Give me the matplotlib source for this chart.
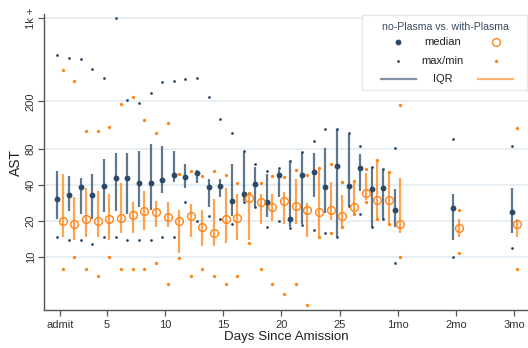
import matplotlib
matplotlib.use('Agg')
import matplotlib.pyplot as plt
import numpy as np

plt.rcParams['font.family'] = ['Liberation Sans', 'DejaVu Sans']

days = list(range(1, 31)) + [35, 40]
xtick_vals = [1, 5, 10, 15, 20, 25, 30, 35, 40]
xtick_labels = ['admit', '5', '10', '15', '20', '25', '1mo', '2mo', '3mo']
ytick_vals = [10, 20, 40, 80, 200, 1000]
ytick_labels = ['10', '20', '40', '80', '200', '1k +']

# no-Plasma
np_max = [489, 464, 452, 371, 314, 1000, 207, 193, 234, 291, 298, 308, 314, 216, 143, 108,
          77, 60.4, 52.8, 55.6, 64, 75.1, 93.2, 117, 118.8, 110, 85.2, 56.8, 55, 81.1, 96.4, 84.7]
np_q3 = [52.4, 47.8, 45.8, 49.4, 66, 74, 74, 77, 87.6, 85.2, 76.6, 60.1, 53.4, 44.6, 44.6, 60.4,
         75, 56.8, 49.4, 53.3, 63.6, 74, 74, 81.1, 118, 107, 72.6, 56.5, 54.5, 36.9, 33.4, 37.8]
np_med = [30.5, 33, 38.5, 33, 39.3, 45.8, 46.1, 41.6, 41.6, 44.3, 48.9, 46.6, 50.6, 38.3, 39, 29.4,
          34, 40.5, 28.8, 48.9, 20.8, 48.9, 51.7, 38.3, 57.6, 39, 55.6, 37, 37.8, 24.8, 25.8, 23.8]
np_q1 = [20.8, 24.2, 22.9, 20.8, 23.8, 24.4, 22.9, 26.1, 24.7, 34.2, 42.6, 37.8, 41.8, 26.1, 31.9, 22,
         29.5, 26.3, 21.7, 31.9, 17.8, 18.9, 31.6, 23.2, 14.8, 26.7, 35.8, 17.9, 20.9, 17.9, 13.9, 15.8]
np_min = [14.8, 13.9, 13.9, 12.8, 14.8, 14.8, 13.9, 13.9, 13.9, 14.8, 14.8, 28.8, 20, 22, 20.8, 18.9,
          28.8, 26, 17.8, 20, 17.6, 18.7, 16.8, 15.8, 14.7, 26.5, 22.9, 17.8, 20.8, 8.9, 10, 11.9]

# with-Plasma
wp_max = [366, 296, 113, 113, 123, 191, 216, 141, 108, 132, 49.5, 52.2, 47.8, 52.8, 48.8, 41.8,
          34.6, 41.8, 47.8, 46.6, 53.4, 48.8, 55.6, 60.4, 42.6, 43.2, 54.1, 64.7, 51.7, 186.6, 24.8, 121]
wp_q3 = [49.4, 31.7, 37.8, 35.6, 33.6, 41.6, 28.8, 35.6, 29.7, 28.8, 24.6, 27.7, 24.6, 30.8, 37.8, 33.6,
         34.2, 33.6, 33.6, 34.8, 44.6, 28.1, 55, 42.6, 33, 42, 50.4, 64.3, 51.3, 45.4, 20.8, 20.8]
wp_med = [20, 18.9, 20.8, 20, 20.8, 21.3, 22.3, 24.4, 23.8, 21.7, 20, 21.9, 17.9, 16, 20.8, 21.3,
          31, 28.8, 26.2, 29.7, 26.7, 24.8, 23.8, 24.8, 21.9, 26.2, 34.2, 30, 30, 18.9, 17.5, 19]
wp_q1 = [14.8, 13.9, 14.8, 14.8, 13.9, 15.9, 15.9, 16.8, 17.9, 17.9, 10.9, 14.8, 12.4, 12.4, 13, 13.9,
         13.9, 18.9, 20, 18.9, 18.9, 14.8, 14.8, 20.4, 17.9, 23.2, 30, 20.9, 18.9, 16, 14.8, 14.8]
wp_min = [7.9, 10, 7.9, 6.9, 10, 7.9, 7.9, 7.9, 9.0, 5.9, 9.9, 6.9, 7.9, 6.9, 5.9, 6.9,
          13, 7.9, 5.9, 4.95, 5.9, 4.0, 14.7, 15.8, 17.8, 23.1, 28.8, 20.8, 18.8, 10, 10.9, 7.9]

BLUE = '#2c4a68'
ORANGE = '#ff8417'
off = 0.23

fig = plt.figure(figsize=(5.28, 3.48), dpi=100)
ax = fig.add_axes([44 / 528, 38 / 348, 484 / 528, 296 / 348])
ax.set_yscale('log')

x = np.array(days, dtype=float)
xb = x - off
xo = x + off

# grid
for yv in ytick_vals:
    ax.axhline(yv, color='#e6eef3', lw=1.3, zorder=0)

ax.vlines(xb, np_q1, np_q3, color=BLUE, lw=1.6, alpha=0.75, zorder=2)
ax.vlines(xo, wp_q1, wp_q3, color=ORANGE, lw=1.6, alpha=0.75, zorder=2)

ax.plot(xb, np_max, 'o', ms=2.0, color=BLUE, mew=0, zorder=3, clip_on=False)
ax.plot(xb, np_min, 'o', ms=2.0, color=BLUE, mew=0, zorder=3)
ax.plot(xo, wp_max, 'o', ms=2.4, color=ORANGE, mew=0, zorder=3)
ax.plot(xo, wp_min, 'o', ms=2.4, color=ORANGE, mew=0, zorder=3)

ax.plot(xb, np_med, 'o', ms=4.2, color=BLUE, mew=0, zorder=4)
ax.plot(xo, wp_med, 'o', ms=5.6, mfc='none', mec=ORANGE, mew=1.0, ls='none', zorder=4)

ax.set_xlim(-0.38, 41.18)
ax.set_ylim(3.61, 1077)

ax.set_xticks(xtick_vals)
ax.set_xticklabels(xtick_labels)
ax.set_yticks(ytick_vals)
ax.set_yticklabels(ytick_labels, rotation=90, va='center')
ax.minorticks_off()
ax.yaxis.set_minor_locator(matplotlib.ticker.NullLocator())

for s in ['top', 'right']:
    ax.spines[s].set_visible(False)
for s in ['left', 'bottom']:
    ax.spines[s].set_color('#555555')
    ax.spines[s].set_linewidth(1.0)
ax.tick_params(axis='both', colors='#555555', labelcolor='#333333', labelsize=8, length=4, width=0.9)
ax.tick_params(axis='y', pad=2)
ax.tick_params(axis='x', pad=3)

ax.set_xlabel('Days Since Amission', fontsize=9.6, color='#222222', labelpad=1)
ax.set_ylabel('AST', fontsize=10, color='#222222', labelpad=2)

# legend box
lax = fig.add_axes([362 / 528, (348 - 90) / 348, 165 / 528, 75 / 348])
lax.set_xlim(0, 1)
lax.set_ylim(0, 1)
lax.set_xticks([])
lax.set_yticks([])
for s in lax.spines.values():
    s.set_color('#e3e9ed')
    s.set_linewidth(1.0)
lax.text(0.507, 0.84, 'no-Plasma vs. with-Plasma', ha='center', va='center', fontsize=7.6, color='#3a4a60')
rows = [0.64, 0.387, 0.147]
for yy, lab in zip(rows, ['median', 'max/min', 'IQR']):
    lax.text(0.49, yy, lab, ha='center', va='center', fontsize=8, color='#222222')
lax.plot([0.218], [rows[0]], 'o', ms=4.2, color=BLUE, mew=0)
lax.plot([0.81], [rows[0]], 'o', ms=5.6, mfc='none', mec=ORANGE, mew=1.0)
lax.plot([0.218], [rows[1]], 'o', ms=2.0, color=BLUE, mew=0)
lax.plot([0.81], [rows[1]], 'o', ms=2.4, color=ORANGE, mew=0)
lax.plot([0.113, 0.325], [rows[2], rows[2]], color=BLUE, lw=1.6, alpha=0.6)
lax.plot([0.703, 0.915], [rows[2], rows[2]], color=ORANGE, lw=1.6, alpha=0.6)

fig.savefig('out.png', dpi=100)
